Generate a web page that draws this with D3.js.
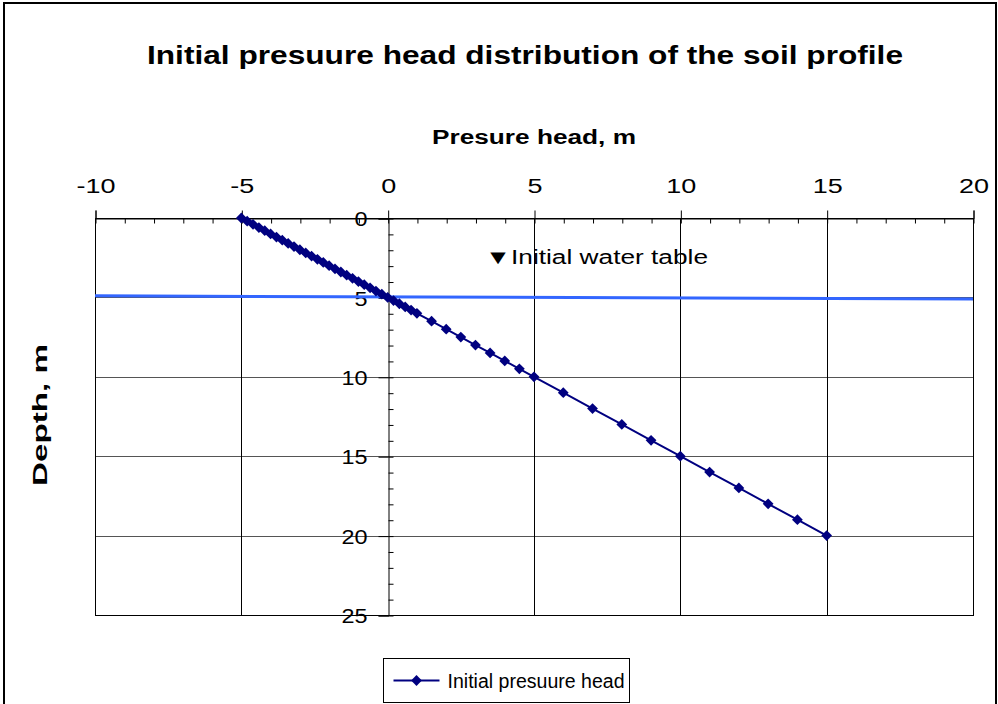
<!DOCTYPE html>
<html>
<head>
<meta charset="utf-8">
<script src="https://cdn.jsdelivr.net/npm/d3@7"></script>
<style>
	body { margin: 0; background: #fff; }
	svg text { font-family: "Liberation Sans", Arial, sans-serif; fill: #000; }
</style>
</head>
<body>
<div id="vis"></div>
<script>
// DATA
let depth = [
	0, 0.2, 0.4, 0.6, 0.8, 1, 1.2, 1.4, 1.6, 1.8, 2, 2.2, 2.4, 2.6, 2.8, 3,
	3.2, 3.4, 3.6, 3.8, 4, 4.2, 4.4, 4.6, 4.8, 5, 5.2, 5.4, 5.6, 5.8, 6,
	6.5, 7, 7.5, 8, 8.5, 9, 9.5, 10,
	11, 12, 13, 14, 15, 16, 17, 18, 19, 20
];
let pressureHead = [
	-5, -4.8, -4.6, -4.4, -4.2, -4, -3.8, -3.6, -3.4, -3.2, -3, -2.8, -2.6, -2.4, -2.2, -2,
	-1.8, -1.6, -1.4, -1.2, -1, -0.8, -0.6, -0.4, -0.2, 0, 0.2, 0.4, 0.6, 0.8, 1,
	1.5, 2, 2.5, 3, 3.5, 4, 4.5, 5,
	6, 7, 8, 9, 10, 11, 12, 13, 14, 15
];
let waterTableHead = [-10, 20];
let waterTableDepth = [4.9, 5.1];
let xTicks = [-10, -5, 0, 5, 10, 15, 20];
let yTicks = [0, 5, 10, 15, 20, 25];

// PARAMETERS
let width = 998,
	height = 704,
	plot = { left: 95, right: 973, top: 218, bottom: 615 };

// stretch text horizontally (the original's fonts are wide)
let stretch = (sel, k) => sel.each(function () {
	let len = this.getComputedTextLength();
	d3.select(this)
		.attr('textLength', len * k)
		.attr('lengthAdjust', 'spacingAndGlyphs');
});

// SCALES
let x = d3.scaleLinear().domain([-10, 20]).range([plot.left, plot.right]),
	y = d3.scaleLinear().domain([0, 25]).range([plot.top, plot.bottom]);

let svg = d3.select('#vis')
	.append('svg')
	.attr('width', width)
	.attr('height', height);

// FRAME
svg.append('rect')
	.attr('x', 4).attr('y', 3)
	.attr('width', 992).attr('height', 720)
	.attr('fill', '#fff')
	.attr('stroke', '#000')
	.attr('stroke-width', 2);

// TITLES
svg.append('text')
	.attr('x', 525).attr('y', 64)
	.attr('text-anchor', 'middle')
	.attr('font-size', 25)
	.attr('font-weight', 'bold')
	.attr('textLength', 756)
	.attr('lengthAdjust', 'spacingAndGlyphs')
	.text('Initial presuure head distribution of the soil profile');

svg.append('text')
	.attr('x', 534).attr('y', 144)
	.attr('text-anchor', 'middle')
	.attr('font-size', 20)
	.attr('font-weight', 'bold')
	.attr('textLength', 204)
	.attr('lengthAdjust', 'spacingAndGlyphs')
	.text('Presure head, m');

svg.append('text')
	.attr('transform', `translate(47, 415) rotate(-90)`)
	.attr('text-anchor', 'middle')
	.attr('font-size', 20)
	.attr('font-weight', 'bold')
	.attr('textLength', 142)
	.attr('lengthAdjust', 'spacingAndGlyphs')
	.text('Depth, m');

// GRID
svg.append('g')
	.selectAll('line')
	.data(yTicks.filter(d => d > 0 && d < 25))
	.join('line')
	.attr('x1', plot.left).attr('x2', plot.right)
	.attr('y1', d => Math.round(y(d)) + 0.5)
	.attr('y2', d => Math.round(y(d)) + 0.5)
	.attr('stroke', '#555');

svg.append('g')
	.selectAll('line')
	.data(xTicks.filter(d => d > -10 && d < 20 && d !== 0))
	.join('line')
	.attr('x1', d => Math.round(x(d)) + 0.5)
	.attr('x2', d => Math.round(x(d)) + 0.5)
	.attr('y1', plot.top).attr('y2', plot.bottom)
	.attr('stroke', '#000');

svg.append('rect')
	.attr('x', plot.left + 0.5).attr('y', plot.top + 0.5)
	.attr('width', plot.right - plot.left)
	.attr('height', plot.bottom - plot.top)
	.attr('fill', 'none')
	.attr('stroke', '#000');

// AXES
let xMinor = d3.range(-10, 21, 1);
let yMinor = d3.range(0, 26, 1);

let xAxis = svg.append('g')
	.attr('transform', `translate(0.5, ${plot.top + 0.5})`)
	.call(d3.axisTop(x).tickValues(xTicks).tickSize(8).tickPadding(18).tickFormat(d => String(d)));
xAxis.append('g')
	.call(d3.axisBottom(x).tickValues(xMinor).tickSize(5).tickFormat(''))
	.select('.domain').remove();

let yAxis = svg.append('g')
	.attr('transform', `translate(${Math.round(x(0)) + 0.5}, 0.5)`)
	.call(d3.axisLeft(y).tickValues(yTicks).tickSize(10).tickPadding(11).tickFormat(d => String(d)));
yAxis.append('g')
	.call(d3.axisRight(y).tickValues(yMinor).tickSize(5).tickFormat(''))
	.select('.domain').remove();

svg.selectAll('.domain, .tick line').attr('stroke', '#000');
svg.selectAll('.tick text')
	.attr('font-size', 20)
	.attr('font-family', '"Liberation Sans", Arial, sans-serif')
	.attr('fill', '#000');
xAxis.selectAll('.tick text').attr('dy', 0).call(stretch, 1.35);
yAxis.selectAll('.tick text').attr('dy', '0.36em').call(stretch, 1.17);

// WATER TABLE
let wt = waterTableHead.map((h, i) => [h, waterTableDepth[i]]);
svg.append('path')
	.datum(wt)
	.attr('fill', 'none')
	.attr('stroke', '#3366ff')
	.attr('stroke-width', 3)
	.attr('d', d3.line().x(d => x(d[0])).y(d => y(d[1])));

svg.append('text')
	.attr('x', 485).attr('y', 264)
	.attr('font-size', 20)
	.attr('textLength', 223)
	.attr('lengthAdjust', 'spacingAndGlyphs')
	.text('\u25BCInitial water table');

// SERIES
let points = pressureHead.map((h, i) => [h, depth[i]]);
svg.append('path')
	.datum(points)
	.attr('fill', 'none')
	.attr('stroke', '#000080')
	.attr('stroke-width', 2)
	.attr('d', d3.line().x(d => x(d[0])).y(d => y(d[1])));

let diamond = d3.symbol().type(d3.symbolSquare).size(58);
svg.append('g')
	.selectAll('path')
	.data(points)
	.join('path')
	.attr('transform', d => `translate(${x(d[0])}, ${y(d[1])}) rotate(45)`)
	.attr('d', diamond)
	.attr('fill', '#000080');

// LEGEND
let legend = svg.append('g').attr('transform', 'translate(383.5, 658.5)');
legend.append('rect')
	.attr('width', 246).attr('height', 44)
	.attr('fill', '#fff')
	.attr('stroke', '#000');
legend.append('line')
	.attr('x1', 10).attr('x2', 56)
	.attr('y1', 22).attr('y2', 22)
	.attr('stroke', '#000080')
	.attr('stroke-width', 2);
legend.append('path')
	.attr('transform', 'translate(33, 22) rotate(45)')
	.attr('d', diamond)
	.attr('fill', '#000080');
legend.append('text')
	.attr('x', 64).attr('y', 29)
	.attr('font-size', 20)
	.attr('textLength', 177)
	.attr('lengthAdjust', 'spacingAndGlyphs')
	.text('Initial presuure head');
</script>
</body>
</html>
